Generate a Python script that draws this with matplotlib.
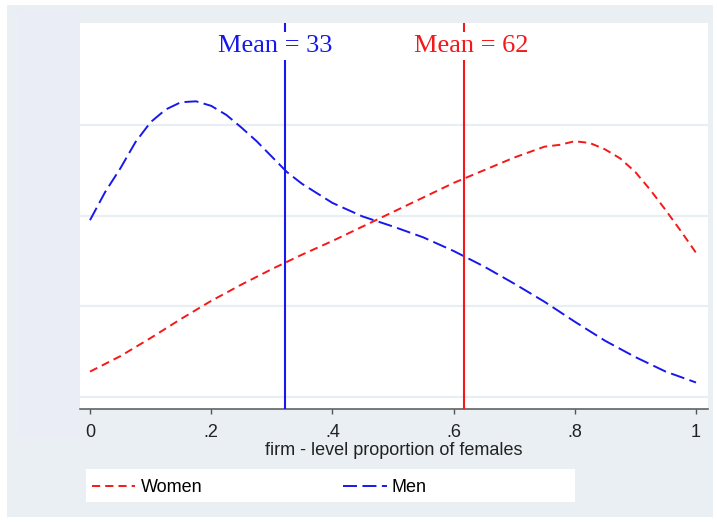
import numpy as np
import matplotlib
matplotlib.use("Agg")
import matplotlib.pyplot as plt
from matplotlib.patches import Rectangle
from matplotlib.lines import Line2D

# ---- data ----
women_x = [0, .05, .1, .15, .2, .25, .3, .35, .4, .45, .5, .55, .6, .65,
           .7, .725, .75, .775, .8, .825, .85, .875, .9, .925, .95, .975, 1]
women_density = [0.28, 0.45, 0.65, 0.86, 1.06, 1.24, 1.41, 1.57, 1.72, 1.88, 2.04, 2.20, 2.36, 2.50,
                 2.64, 2.70, 2.76, 2.78, 2.82, 2.80, 2.73, 2.63, 2.48, 2.28, 2.06, 1.83, 1.59]
men_x = [0, .025, .05, .075, .1, .125, .15, .175, .2, .225, .25, .275, .3, .325, .35,
         .4, .45, .5, .55, .6, .65, .7, .75, .8, .85, .9, .95, 1]
men_density = [1.95, 2.26, 2.52, 2.81, 3.03, 3.17, 3.25, 3.26, 3.21, 3.11, 2.97, 2.82, 2.65, 2.48, 2.35,
               2.14, 1.99, 1.88, 1.76, 1.61, 1.44, 1.25, 1.05, 0.83, 0.62, 0.44, 0.28, 0.16]
mean_positions = [0.322, 0.617]
mean_labels = ["Mean = 33", "Mean = 62"]
x_ticks = [0, .2, .4, .6, .8, 1]
x_ticklabels = ["0", ".2", ".4", ".6", ".8", "1"]
y_grid = [0, 1, 2, 3]
series_names = ["Women", "Men"]

RED = "#F51818"
BLUE = "#1818EC"
W, H = 717, 522

fig = plt.figure(figsize=(W / 100, H / 100), dpi=100)
fig.patch.set_facecolor("white")

# background panels
fig.patches.append(Rectangle((7 / W, 1 - 517 / H), 706 / W, 512 / H, transform=fig.transFigure,
                             facecolor="#E9EFF2", edgecolor="none", zorder=-3))
fig.patches.append(Rectangle((18 / W, 1 - 437 / H), 62 / W, 427 / H, transform=fig.transFigure,
                             facecolor="#EAEDF5", edgecolor="none", zorder=-2))
# legend box
fig.patches.append(Rectangle((86 / W, 1 - 502 / H), 489 / W, 33 / H, transform=fig.transFigure,
                             facecolor="white", edgecolor="none", zorder=-1))

ax = fig.add_axes([80 / W, 1 - 409 / H, 628 / W, 386 / H])
ax.set_zorder(2)
ax.set_facecolor("white")
ax.set_xlim(-10 / 606, 1 + 12 / 606)
ax.set_ylim(-12 / 90.7, 374 / 90.7)

for g in y_grid:
    ax.axhline(g, color="#E8EEF1", lw=1.6, zorder=1)

lw = 1.4
red_dash = (4.2, 2.6)
blue_dash = (7.2, 2.8)
ax.plot(women_x, women_density, color=RED, lw=lw, dashes=red_dash, zorder=3)
ax.plot(men_x, men_density, color=BLUE, lw=lw, dashes=blue_dash, zorder=3)

text_offsets = [-0.0165, 0.0115]
for xm, lab, c, off in zip(mean_positions, mean_labels, [BLUE, RED], text_offsets):
    ax.axvline(xm, color=c, lw=1.5, zorder=4)
    ax.text(xm + off, (397 - 46) / 90.7, lab, color=c, fontsize=19,
            family="Liberation Serif", ha="center", va="center", zorder=5,
            bbox=dict(boxstyle="square,pad=0.12", facecolor="white", edgecolor="none"))

for s in ["top", "right", "left"]:
    ax.spines[s].set_visible(False)
ax.spines["bottom"].set_color("#555555")
ax.spines["bottom"].set_linewidth(1.1)
ax.set_yticks([])
ax.set_xticks(x_ticks)
ax.set_xticklabels(x_ticklabels, family="Liberation Sans", fontsize=13, color="#222222")
ax.tick_params(axis="x", direction="out", length=3.6, width=1.0, color="#555555", pad=7)
ax.set_xlabel("firm - level proportion of females", family="Liberation Sans",
              fontsize=13, color="#222222", labelpad=1)

handles = [Line2D([], [], color=RED, lw=lw, dashes=red_dash),
           Line2D([], [], color=BLUE, lw=lw, dashes=blue_dash)]
leg = fig.legend(handles, series_names, loc="center left",
                 bbox_to_anchor=(92 / W, 1 - 488 / H), frameon=False,
                 prop={"family": "Liberation Sans", "size": 13}, ncol=2,
                 handlelength=2.4, handletextpad=0.3, columnspacing=7.8,
                 borderpad=0.0, borderaxespad=0.0)
leg.set_zorder(5)

fig.savefig("out.png", dpi=100, facecolor=fig.get_facecolor())
